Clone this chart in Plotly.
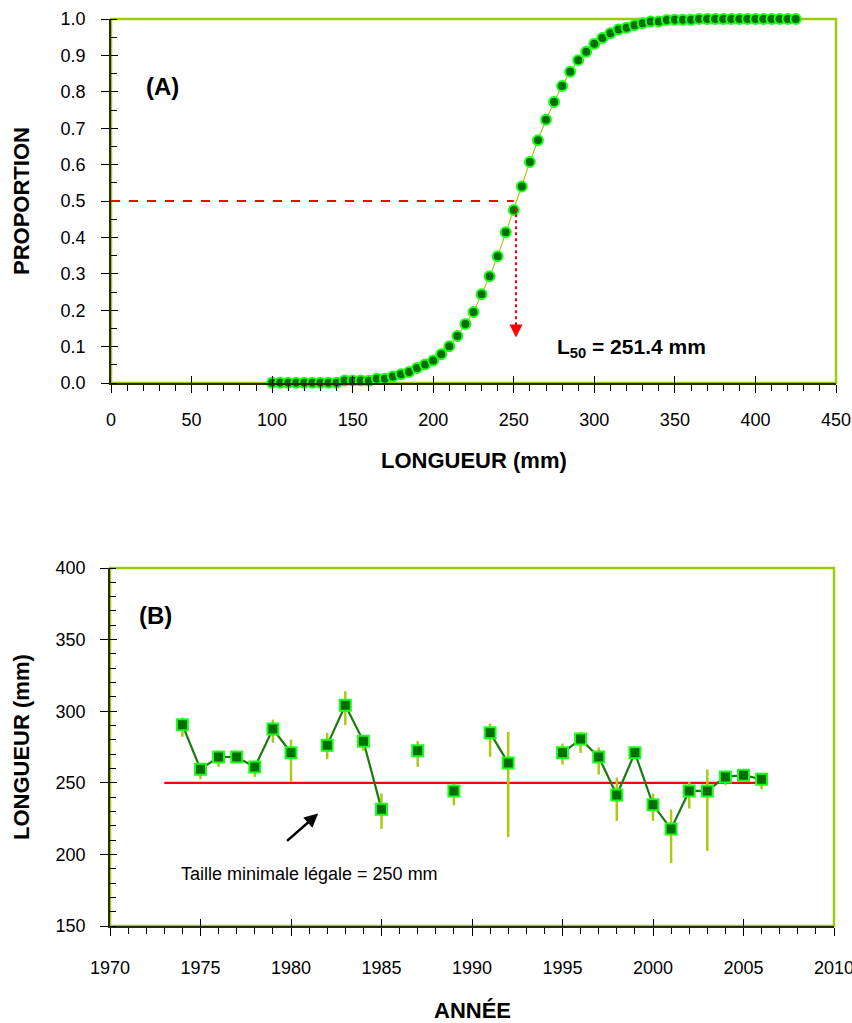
import plotly.graph_objects as go

# ---------------- Panel A data: maturity ogive ----------------
length_mm = list(range(100, 430, 5))
proportion = [
    0.001, 0.001, 0.001, 0.001, 0.001, 0.001, 0.001, 0.001, 0.001,   # 100-140
    0.007, 0.007, 0.007, 0.006, 0.012, 0.012, 0.018, 0.024, 0.030,   # 145-185
    0.041, 0.051, 0.062, 0.079, 0.101, 0.129, 0.162, 0.195, 0.244,   # 190-230
    0.293, 0.348, 0.414, 0.475, 0.540, 0.607, 0.667, 0.723, 0.772,   # 235-275
    0.816, 0.855, 0.887, 0.910, 0.932, 0.948, 0.961, 0.971, 0.976,   # 280-320
    0.983, 0.988, 0.993, 0.993, 0.997, 0.998, 0.998, 0.998,          # 325-360
    1.0, 1.0, 1.0, 1.0, 1.0, 1.0, 1.0, 1.0, 1.0, 1.0, 1.0, 1.0, 1.0  # 365-425
]
L50 = 251.4
x_ticks_a = list(range(0, 451, 50))
y_ticks_a = [round(i * 0.1, 1) for i in range(11)]

# ---------------- Panel B data: mean length by year ----------------
years = [1974, 1975, 1976, 1977, 1978, 1979, 1980, 1982, 1983, 1984, 1985, 1987,
         1989, 1991, 1992, 1995, 1996, 1997, 1998, 1999, 2000, 2001, 2002, 2003,
         2004, 2005, 2006]
mean_len = [290.5, 259.5, 268.0, 268.0, 261.0, 287.5, 271.0, 276.3, 304.2, 279.1,
            231.6, 272.3, 244.3, 284.9, 263.9, 270.9, 280.5, 268.1, 241.5, 270.9,
            234.6, 217.8, 244.3, 244.3, 254.1, 255.3, 252.5]
upper_len = [295.6, 263.0, 271.0, 271.0, 263.0, 294.2, 280.2, 284.9, 314.0, 282.0,
             242.5, 279.1, 249.3, 291.4, 285.6, 277.4, 285.6, 274.7, 253.7, 273.0,
             242.5, 231.3, 250.6, 259.3, 257.0, 257.0, 255.0]
lower_len = [282.1, 252.5, 261.1, 265.0, 254.1, 277.9, 250.6, 266.5, 290.3, 272.3,
             217.8, 261.1, 234.3, 268.1, 212.2, 262.8, 270.9, 255.8, 223.4, 268.0,
             223.4, 194.0, 232.0, 202.4, 248.3, 252.0, 245.5]
min_legal_size = 250
min_size_span = [1973, 2006]
x_ticks_b = list(range(1970, 2011, 5))
y_ticks_b = list(range(150, 401, 50))

# ---------------- styling constants ----------------
FAM = "Liberation Sans, Arial, sans-serif"
TICK_FONT = dict(family=FAM, size=18, color="black")
TITLE_FONT = dict(family=FAM, size=22, color="black")
TEXT_FONT = dict(family=FAM, size=18, color="black")
FRAME = "#9ccc0a"
AXLINE = "#2a2a00"
DARKG = "#006e00"
LIME = "#1aff1a"

W, H = 852, 1023


def px(x):
    return x / W


def py(y):
    return 1 - y / H


dom_x_a = [px(111), px(836)]
dom_y_a = [py(383), py(19)]
dom_x_b = [px(110), px(834)]
dom_y_b = [py(926), py(568)]

fig = go.Figure()

# Panel A ogive
fig.add_trace(go.Scatter(
    x=length_mm, y=proportion, mode="lines+markers",
    line=dict(color="#a8c81e", width=1.2),
    marker=dict(symbol="circle", size=10, color=DARKG, line=dict(color=LIME, width=2)),
    xaxis="x", yaxis="y", cliponaxis=False, hoverinfo="x+y"))

# Panel B: minimum legal size line
fig.add_trace(go.Scatter(
    x=min_size_span, y=[min_legal_size, min_legal_size], mode="lines",
    line=dict(color="#ff0000", width=2.2), xaxis="x2", yaxis="y2"))

# Panel B: connecting line with gaps for missing years
line_x, line_y = [], []
for i, (yr, v) in enumerate(zip(years, mean_len)):
    if i > 0 and yr - years[i - 1] > 1:
        line_x.append(None)
        line_y.append(None)
    line_x.append(yr)
    line_y.append(v)
fig.add_trace(go.Scatter(
    x=line_x, y=line_y, mode="lines", connectgaps=False,
    line=dict(color="#1a7a10", width=2.2), xaxis="x2", yaxis="y2"))

# Panel B: error bars + markers
fig.add_trace(go.Scatter(
    x=years, y=mean_len, mode="markers",
    error_y=dict(type="data", symmetric=False,
                 array=[u - m for u, m in zip(upper_len, mean_len)],
                 arrayminus=[m - l for m, l in zip(mean_len, lower_len)],
                 color="#a6cc14", thickness=2.5, width=0),
    marker=dict(symbol="square", size=11, color=DARKG, line=dict(color=LIME, width=2)),
    xaxis="x2", yaxis="y2", cliponaxis=False))

# dummy traces for overlay axes (inside half of crossing major ticks)
fig.add_trace(go.Scatter(x=[None], y=[None], xaxis="x3", yaxis="y3", hoverinfo="skip"))
fig.add_trace(go.Scatter(x=[None], y=[None], xaxis="x4", yaxis="y4", hoverinfo="skip"))

common = dict(showgrid=False, zeroline=False, ticks="outside", ticklen=8,
              tickcolor="black", tickwidth=1, tickfont=TICK_FONT, automargin=False,
              ticklabeloverflow="allow",
              showline=True, linecolor=AXLINE, linewidth=1.5, mirror=False)
overlay = dict(ticks="inside", ticklen=7, tickcolor="black", showticklabels=False,
               showgrid=False, zeroline=False, showline=False, automargin=False)

fig.update_layout(
    template="none",
    width=W, height=H,
    margin=dict(l=0, r=0, t=0, b=0, autoexpand=False),
    paper_bgcolor="white", plot_bgcolor="white",
    showlegend=False,
    xaxis=dict(domain=dom_x_a, anchor="y", range=[0, 450], tickvals=x_ticks_a,
               minor=dict(dtick=10, ticks="outside", ticklen=6, tickcolor="black"),
               ticklabelstandoff=12, **common),
    yaxis=dict(domain=dom_y_a, anchor="x", range=[0, 1.0], tickvals=y_ticks_a,
               tickformat=".1f",
               minor=dict(dtick=0.05, ticks="inside", ticklen=6, tickcolor="black"),
               ticklabelstandoff=12, **common),
    xaxis2=dict(domain=dom_x_b, anchor="y2", range=[1970, 2010], tickvals=x_ticks_b,
                minor=dict(dtick=1, ticks="outside", ticklen=6, tickcolor="black"),
                ticklabelstandoff=17, **common),
    yaxis2=dict(domain=dom_y_b, anchor="x2", range=[150, 400], tickvals=y_ticks_b,
                minor=dict(dtick=10, ticks="inside", ticklen=6, tickcolor="black"),
                ticklabelstandoff=11, **common),
    xaxis3=dict(overlaying="x", anchor="y", range=[0, 450], tickvals=x_ticks_a, **overlay),
    yaxis3=dict(overlaying="y", anchor="x", range=[0, 1.0], tickvals=y_ticks_a, **overlay),
    xaxis4=dict(overlaying="x2", anchor="y2", range=[1970, 2010], tickvals=x_ticks_b, **overlay),
    yaxis4=dict(overlaying="y2", anchor="x2", range=[150, 400], tickvals=y_ticks_b, **overlay),
)

# frames (yellow-green border behind black axis lines)
for xr, yr in (("x domain", "y domain"), ("x2 domain", "y2 domain")):
    fig.add_shape(type="rect", xref=xr, yref=yr, x0=0, x1=1, y0=0, y1=1,
                  line=dict(color=FRAME, width=2.5), layer="below")

# Panel A reference lines
fig.add_shape(type="line", xref="x", yref="y", x0=0, x1=250, y0=0.5, y1=0.5,
              line=dict(color="#ff0000", width=2, dash="dash"))
fig.add_shape(type="line", xref="x", yref="y", x0=L50, x1=L50, y0=0.48, y1=0.14,
              line=dict(color="#ff0000", width=2, dash="dot"))
fig.add_annotation(x=L50, y=0.125, ax=L50, ay=0.16, xref="x", yref="y",
                   axref="x", ayref="y", text="", showarrow=True,
                   arrowhead=2, arrowsize=1.3, arrowwidth=2, arrowcolor="#ff0000")

# Panel B arrow
fig.add_annotation(x=1981.5, y=228.5, ax=1979.7, ay=208.5, xref="x2", yref="y2",
                   axref="x2", ayref="y2", text="", showarrow=True,
                   arrowhead=2, arrowsize=1.1, arrowwidth=2.5, arrowcolor="black")

C = dict(showarrow=False, xanchor="center", yanchor="middle")

# Text annotations
fig.add_annotation(x=32, y=0.815, xref="x", yref="y", text="<b>(A)</b>",
                   font=dict(TITLE_FONT, size=24), **C)
fig.add_annotation(x=323, y=0.095, xref="x", yref="y",
                   text="<b>L<sub>50</sub> = 251.4 mm</b>",
                   font=dict(TITLE_FONT, size=21), **C)
fig.add_annotation(x=1972.5, y=367, xref="x2", yref="y2", text="<b>(B)</b>",
                   font=dict(TITLE_FONT, size=24), **C)
fig.add_annotation(x=1981.0, y=186.1, xref="x2", yref="y2",
                   text="Taille minimale légale = 250 mm",
                   font=TEXT_FONT, **C)

# Axis titles
fig.add_annotation(x=px(21), y=py(201), xref="paper", yref="paper",
                   text="<b>PROPORTION</b>", textangle=-90, font=TITLE_FONT, **C)
fig.add_annotation(x=px(474), y=py(460), xref="paper", yref="paper",
                   text="<b>LONGUEUR (mm)</b>", font=TITLE_FONT, **C)
fig.add_annotation(x=px(21), y=py(747), xref="paper", yref="paper",
                   text="<b>LONGUEUR (mm)</b>", textangle=-90, font=TITLE_FONT, **C)
fig.add_annotation(x=px(472), y=py(1010), xref="paper", yref="paper",
                   text="<b>ANNÉE</b>", font=TITLE_FONT, **C)

# remove the default 8px page margin so the figure fills the window exactly
fig.write_html(
    "out.html",
    config={"displayModeBar": False},
    post_script="document.body.style.margin='0';"
                "document.documentElement.style.overflow='hidden';"
                "document.body.style.overflow='hidden';")
